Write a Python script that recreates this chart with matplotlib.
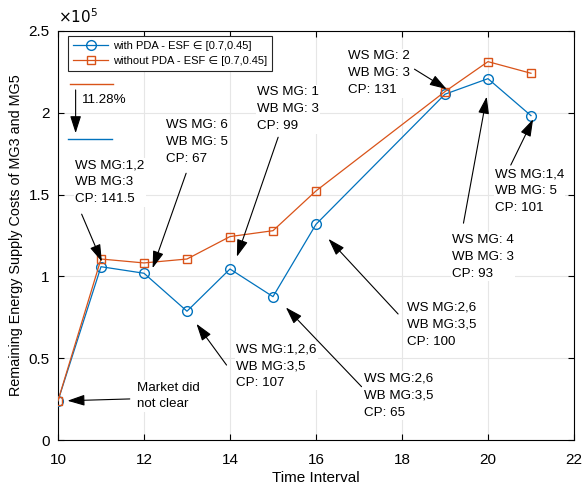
import matplotlib.pyplot as plt

plt.rcParams['font.family'] = ['Liberation Sans', 'DejaVu Sans']

# Dados (custos em unidades de 1e5)
intervalos = [10, 11, 12, 13, 14, 15, 16, 19, 20, 21]
com_pda = [0.24, 1.059, 1.019, 0.787, 1.045, 0.876, 1.318, 2.113, 2.208, 1.982]
sem_pda = [0.24, 1.106, 1.082, 1.106, 1.243, 1.279, 1.522, 2.129, 2.312, 2.241]

label_com = "with PDA - ESF \u2208 [0.7,0.45]"
label_sem = "without PDA - ESF \u2208 [0.7,0.45]"

# Anotacoes: texto, posicao do texto (x, y centro), ponta da seta, inicio da seta
anotacoes = [
    ("WS MG:1,2\nWB MG:3\nCP: 141.5", (10.40, 1.574), (11.02, 1.09), (10.55, 1.38)),
    ("WS MG: 6\nWB MG: 5\nCP: 67", (12.51, 1.823), (12.20, 1.05), (12.98, 1.63)),
    ("WS MG: 1\nWB MG: 3\nCP: 99", (14.63, 2.021), (14.16, 1.12), (15.12, 1.85)),
    ("WS MG:1,2,6\nWB MG:3,5\nCP: 107", (14.14, 0.452), (13.22, 0.71), (13.92, 0.458)),
    ("WS MG:2,6\nWB MG:3,5\nCP: 65", (17.12, 0.271), (15.30, 0.81), (17.06, 0.326)),
    ("WS MG:2,6\nWB MG:3,5\nCP: 100", (18.12, 0.705), (16.29, 1.229), (17.91, 0.77)),
    ("WS MG: 4\nWB MG: 3\nCP: 93", (19.16, 1.120), (19.97, 2.098), (19.43, 1.325)),
    ("WS MG:1,4\nWB MG: 5\nCP: 101", (20.16, 1.520), (21.05, 1.96), (20.53, 1.68)),
    ("WS MG: 2\nWB MG: 3\nCP: 131", (16.75, 2.241), (19.04, 2.144), (18.29, 2.266)),
    ("Market did\nnot clear", (11.84, 0.269), (10.22, 0.24), (11.67, 0.251)),
]

azul = '#0072BD'
laranja = '#D95319'
seta = dict(arrowstyle='-|>,head_length=0.75,head_width=0.24', color='black',
            lw=0.8, mutation_scale=14, shrinkA=0, shrinkB=0)

fig = plt.figure(figsize=(5.87, 4.90), dpi=100)
ax = fig.add_axes([0.0988, 0.102, 0.879, 0.835])

ax.grid(True, color='#e6e6e6', linewidth=0.8, zorder=0)
ax.set_axisbelow(True)

ax.plot(intervalos, com_pda, '-o', color=azul, lw=0.9, ms=7,
        mfc='none', mew=1.0, label=label_com, zorder=3)
ax.plot(intervalos, sem_pda, '-s', color=laranja, lw=0.9, ms=6,
        mfc='none', mew=1.0, label=label_sem, zorder=3)

for texto, pos, ponta, inicio in anotacoes:
    ax.text(pos[0], pos[1], texto, fontsize=9.6, va='center', ha='left',
            linespacing=1.55, zorder=4,
            bbox=dict(facecolor='white', edgecolor='none', pad=1))
    ax.annotate('', xy=ponta, xytext=inicio, zorder=5, arrowprops=seta)

# marcador de 11.28%
ax.plot([10.28, 11.27], [2.174, 2.174], color=laranja, lw=1.0, zorder=3)
ax.plot([10.24, 11.25], [1.838, 1.838], color=azul, lw=1.0, zorder=3)
ax.annotate('', xy=(10.41, 1.875), xytext=(10.41, 2.139), arrowprops=seta)
ax.text(10.55, 2.078, "11.28%", fontsize=9.6, va='center', ha='left')

ax.set_xlim(10, 22)
ax.set_ylim(0, 2.5)
ax.set_xticks([10, 12, 14, 16, 18, 20, 22])
ax.set_yticks([0, 0.5, 1, 1.5, 2, 2.5])
ax.set_yticklabels(['0', '0.5', '1', '1.5', '2', '2.5'])
ax.tick_params(direction='in', top=True, right=True, labelsize=11, length=4)
ax.tick_params(axis='x', pad=9)
ax.tick_params(axis='y', pad=6)
ax.text(0, 1.012, r'$\times10^5$', transform=ax.transAxes, fontsize=11,
        ha='left', va='bottom')

ax.set_xlabel("Time Interval", fontsize=11, labelpad=3)
ax.set_ylabel("Remaining Energy Supply Costs of MG3 and MG5", fontsize=10.4)

leg = ax.legend(loc='upper left', bbox_to_anchor=(0.019, 0.988), fontsize=8,
                handlelength=3.2, handletextpad=0.4, fancybox=False,
                framealpha=1, edgecolor='#262626', borderpad=0.45,
                labelspacing=0.5, borderaxespad=0)
leg.get_frame().set_linewidth(0.8)

fig.savefig('out.png', dpi=100)
